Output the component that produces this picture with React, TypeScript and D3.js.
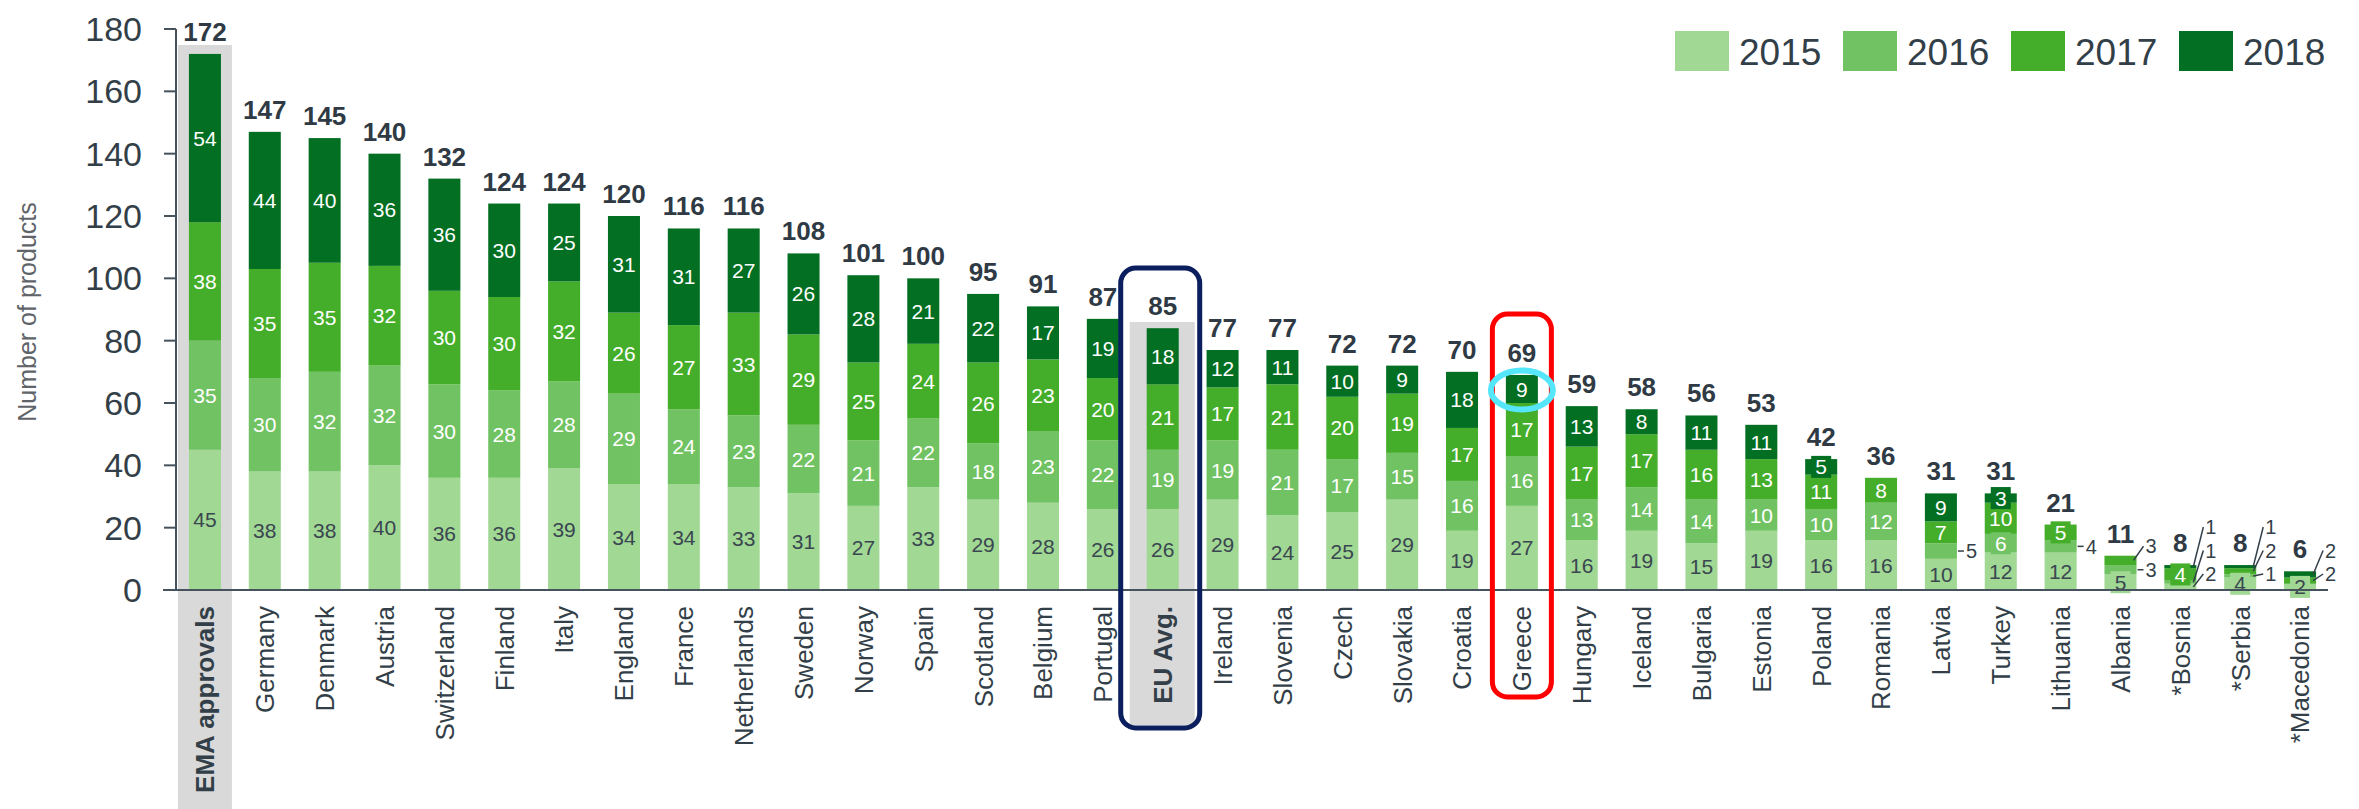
import * as d3 from "d3";

const categories = [
  "EMA approvals", "Germany", "Denmark", "Austria", "Switzerland", "Finland", "Italy", "England",
  "France", "Netherlands", "Sweden", "Norway", "Spain", "Scotland", "Belgium", "Portugal",
  "EU Avg.", "Ireland", "Slovenia", "Czech", "Slovakia", "Croatia", "Greece", "Hungary",
  "Iceland", "Bulgaria", "Estonia", "Poland", "Romania", "Latvia", "Turkey", "Lithuania",
  "Albania", "*Bosnia", "*Serbia", "*Macedonia",
];
const years = ["2015", "2016", "2017", "2018"];
const v2015 = [45, 38, 38, 40, 36, 36, 39, 34, 34, 33, 31, 27, 33, 29, 28, 26, 26, 29, 24, 25, 29, 19, 27, 16, 19, 15, 19, 16, 16, 10, 12, 12, 5, 2, 4, 2];
const v2016 = [35, 30, 32, 32, 30, 28, 28, 29, 24, 23, 22, 21, 22, 18, 23, 22, 19, 19, 21, 17, 15, 16, 16, 13, 14, 14, 10, 10, 12, 5, 6, 4, 3, 1, 1, 0];
const v2017 = [38, 35, 35, 32, 30, 30, 32, 26, 27, 33, 29, 25, 24, 26, 23, 20, 21, 17, 21, 20, 19, 17, 17, 17, 17, 16, 13, 11, 8, 7, 10, 5, 3, 4, 2, 2];
const v2018 = [54, 44, 40, 36, 36, 30, 25, 31, 31, 27, 26, 28, 21, 22, 17, 19, 18, 12, 11, 10, 9, 18, 9, 13, 8, 11, 11, 5, 0, 9, 3, 0, 0, 1, 1, 2];
const totals = [172, 147, 145, 140, 132, 124, 124, 120, 116, 116, 108, 101, 100, 95, 91, 87, 85, 77, 77, 72, 72, 70, 69, 59, 58, 56, 53, 42, 36, 31, 31, 21, 11, 8, 8, 6];
const yTicks = [0, 20, 40, 60, 80, 100, 120, 140, 160, 180];
const boldLabels = ["EMA approvals", "EU Avg."];
// segments whose value is written beside the bar with a leader line
const callouts: [string, number][] = [
  ["Latvia", 1], ["Lithuania", 1], ["Albania", 1], ["Albania", 2],
  ["*Bosnia", 0], ["*Bosnia", 1], ["*Bosnia", 3],
  ["*Serbia", 1], ["*Serbia", 2], ["*Serbia", 3],
  ["*Macedonia", 2], ["*Macedonia", 3],
];

const COLORS = ["#a0d894", "#70c262", "#44ae2a", "#036f22"];
const TEXT = "#333f48";
const AXIS = "#46525c";
const W = 2359;
const H = 809;

export default function App() {
  const rows = categories.map((c, i) => ({
    name: c, "2015": v2015[i], "2016": v2016[i], "2017": v2017[i], "2018": v2018[i],
  }));
  const stacked = d3.stack<any>().keys(years)(rows);

  const x = d3.scaleBand<string>().domain(categories).range([175, 2330]).paddingInner(0.465).paddingOuter(0.2325);
  const y = d3.scaleLinear().domain([0, 180]).range([590, 29]);
  const bw = x.bandwidth();
  const cx = (c: string) => x(c)! + bw / 2;

  const isCallout = (c: string, s: number) => callouts.some(([cc, ss]) => cc === c && ss === s);

  // place callout labels, pushing them upward when they crowd
  const calloutMarks: { c: string; v: number; sy: number; ly: number }[] = [];
  categories.forEach((c, i) => {
    let prev = Infinity;
    years.forEach((_, s) => {
      if (!isCallout(c, s)) return;
      const seg = stacked[s][i];
      const sy = (y(seg[0]) + y(seg[1])) / 2;
      const ly = Math.min(sy, 574, prev - 23.5);
      prev = ly;
      calloutMarks.push({ c, v: seg[1] - seg[0], sy, ly });
    });
  });

  const emaX = cx("EMA approvals");
  const euX = cx("EU Avg.");
  const grX = cx("Greece");
  const greeceTop = stacked[3][categories.indexOf("Greece")];

  return (
    <svg width={W} height={H} style={{ display: "block", position: "absolute", left: 0, top: 0 }}
      fontFamily="'Liberation Sans', Arial, sans-serif">
      <rect x={0} y={0} width={W} height={H} fill="#fff" />
      {/* highlight backgrounds */}
      <rect x={emaX - 27} y={45} width={54} height={H - 45} fill="#d9d9d9" />
      <rect x={euX - 33} y={322} width={65} height={403} fill="#d9d9d9" />

      {/* y axis */}
      <line x1={176} x2={176} y1={y(180)} y2={y(0)} stroke={AXIS} strokeWidth={2} />
      {yTicks.map(t => (
        <g key={t}>
          <line x1={164} x2={176} y1={y(t)} y2={y(t)} stroke={AXIS} strokeWidth={2} />
          <text x={142} y={y(t)} dy="0.35em" textAnchor="end" fontSize={34} fill={TEXT}>{t}</text>
        </g>
      ))}
      <text transform="translate(27,312) rotate(-90)" dy="0.35em" textAnchor="middle" fontSize={25} fill="#5f6469">Number of products</text>

      {/* bars */}
      {stacked.map((layer, s) => (
        <g key={years[s]}>
          {layer.map((d, i) => {
            const c = categories[i];
            const h = y(d[0]) - y(d[1]);
            if (h <= 0) return null;
            return <rect key={c} x={x(c)} y={y(d[1])} width={bw} height={h} fill={COLORS[s]} />;
          })}
        </g>
      ))}
      {stacked.map((layer, s) => (
        <g key={"l" + years[s]} fontSize={21}>
          {layer.map((d, i) => {
            const c = categories[i];
            const v = d[1] - d[0];
            if (v <= 0 || isCallout(c, s)) return null;
            const my = (y(d[0]) + y(d[1])) / 2;
            const small = y(d[0]) - y(d[1]) < 20;
            return (
              <g key={c}>
                {small && <rect x={cx(c) - 10} y={my - 11} width={20} height={22} fill={COLORS[s]} />}
                <text x={cx(c)} y={my} dy="0.36em" textAnchor="middle"
                  fill={s === 0 ? "#3a4650" : "#fff"}>{v}</text>
              </g>
            );
          })}
        </g>
      ))}

      {/* callouts for tiny segments */}
      {calloutMarks.map((m, k) => {
        const bx = x(m.c)! + bw;
        return (
          <g key={k}>
            <line x1={m.ly === m.sy ? bx + 1 : bx - 3} y1={m.sy} x2={bx + 7} y2={m.ly} stroke={TEXT} strokeWidth={1.5} />
            <text x={bx + 9} y={m.ly} dy="0.36em" fontSize={20} fill={TEXT}>{m.v}</text>
          </g>
        );
      })}

      {/* totals */}
      {categories.map((c, i) => (
        <text key={c} x={cx(c)} y={y(stacked[3][i][1]) - 13} textAnchor="middle" fontSize={26}
          fontWeight="bold" fill="#2f3a44">{totals[i]}</text>
      ))}

      {/* x axis */}
      <line x1={163} x2={2328} y1={y(0)} y2={y(0)} stroke={AXIS} strokeWidth={2} />
      {categories.map(c => (
        <text key={c} transform={`translate(${cx(c)},606) rotate(-90)`} dy="0.36em" textAnchor="end"
          fontSize={26} fontWeight={boldLabels.includes(c) ? "bold" : "normal"} fill={TEXT}>{c}</text>
      ))}

      {/* annotations */}
      <rect x={euX - 42} y={268} width={79} height={460} rx={15} fill="none" stroke="#0b1f5e" strokeWidth={5} />
      <rect x={grX - 29.5} y={314} width={59} height={383} rx={15} fill="none" stroke="#ff0000" strokeWidth={5} />
      <ellipse cx={grX} cy={(y(greeceTop[0]) + y(greeceTop[1])) / 2 + 1} rx={31} ry={19.5} fill="none" stroke="#55e6fa" strokeWidth={6} />

      {/* legend */}
      {years.map((yr, i) => (
        <g key={yr} transform={`translate(${1675 + i * 168},31)`}>
          <rect width={54} height={40} fill={COLORS[i]} />
          <text x={64} y={34} fontSize={37} fill={TEXT}>{yr}</text>
        </g>
      ))}
    </svg>
  );
}
